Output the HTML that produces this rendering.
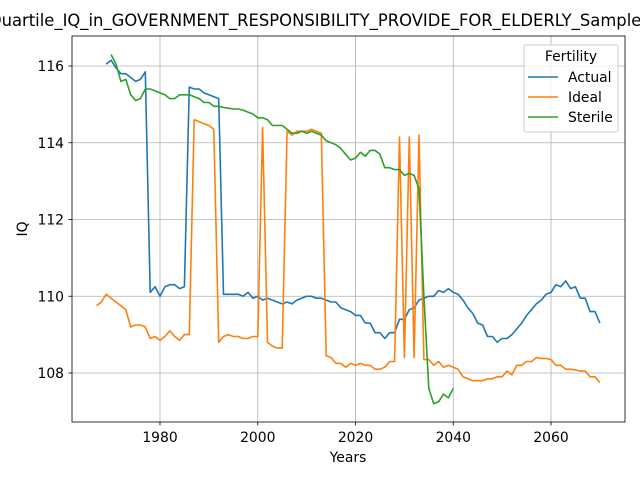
<!DOCTYPE html>
<html><head><meta charset="utf-8"><style>
body{margin:0;background:#fff;}
svg{font-family:"DejaVu Sans","Liberation Sans",sans-serif;}
</style></head><body>
<svg id="chart" width="640" height="480" viewBox="0 0 640 480">
<text x="315" y="26" text-anchor="middle" font-size="16.4">Quartile_IQ_in_GOVERNMENT_RESPONSIBILITY_PROVIDE_FOR_ELDERLY_Sample</text>
<g id="grid"></g>
<g id="series"></g>
<rect x="72" y="36" width="553" height="386" fill="none" stroke="#000" stroke-width="0.8"/>
<g id="ticks"></g>
<text x="348" y="462" text-anchor="middle" font-size="13.9">Years</text>
<text x="27" y="229" text-anchor="middle" font-size="13.9" transform="rotate(-90 27 229)">IQ</text>
<g>
<rect x="524" y="45" width="94" height="87" rx="2" fill="#fff" fill-opacity="0.8" stroke="#ccc"/>
<text x="571" y="61" text-anchor="middle" font-size="13.9">Fertility</text>
<g id="legend"></g>
</g>
</svg>
<script>
const xTicks=[1980,2000,2020,2040,2060];
const yTicks=[108,110,112,114,116];
const startActual=1969;
const actual=[116.05,116.15,115.95,115.8,115.8,115.7,115.6,115.65,115.85,110.1,110.25,110.0,110.25,110.3,110.3,110.2,110.25,115.45,115.4,115.4,115.3,115.25,115.2,115.15,110.05,110.05,110.05,110.05,110.0,110.1,109.95,110.0,109.9,109.95,109.9,109.85,109.8,109.85,109.8,109.9,109.95,110.0,110.0,109.95,109.95,109.9,109.85,109.85,109.7,109.65,109.6,109.5,109.5,109.3,109.3,109.05,109.05,108.9,109.05,109.05,109.4,109.4,109.65,109.7,109.9,109.95,110.0,110.0,110.15,110.1,110.2,110.1,110.05,109.9,109.7,109.55,109.3,109.25,108.95,108.95,108.8,108.9,108.9,109.0,109.15,109.3,109.5,109.65,109.8,109.9,110.05,110.1,110.3,110.25,110.4,110.2,110.25,109.95,109.95,109.6,109.6,109.3];
const startIdeal=1967;
const ideal=[109.75,109.85,110.05,109.95,109.85,109.75,109.65,109.2,109.25,109.25,109.2,108.9,108.95,108.85,108.95,109.1,108.95,108.85,109.0,109.0,114.6,114.55,114.5,114.45,114.35,108.8,108.95,109.0,108.95,108.95,108.9,108.9,108.95,108.95,114.4,108.8,108.7,108.65,108.65,114.3,114.2,114.3,114.3,114.3,114.35,114.3,114.25,108.45,108.4,108.25,108.25,108.15,108.25,108.2,108.25,108.2,108.2,108.1,108.1,108.15,108.3,108.3,114.15,108.4,114.15,108.4,114.2,108.35,108.35,108.2,108.3,108.15,108.2,108.15,108.1,107.9,107.85,107.8,107.8,107.8,107.85,107.85,107.9,107.9,108.05,107.95,108.2,108.2,108.3,108.3,108.4,108.38,108.38,108.35,108.2,108.2,108.1,108.1,108.08,108.05,108.05,107.9,107.9,107.75];
const startSterile=1970;
const sterile=[116.3,116.05,115.6,115.65,115.25,115.1,115.15,115.4,115.4,115.35,115.3,115.25,115.15,115.15,115.25,115.25,115.25,115.2,115.15,115.05,115.05,114.95,114.95,114.92,114.9,114.88,114.88,114.85,114.8,114.75,114.65,114.65,114.6,114.45,114.45,114.45,114.35,114.25,114.25,114.3,114.25,114.3,114.25,114.2,114.05,114.0,113.95,113.85,113.7,113.55,113.6,113.75,113.65,113.8,113.8,113.7,113.35,113.35,113.3,113.3,113.15,113.2,113.15,112.8,110.0,107.6,107.2,107.25,107.45,107.35,107.6];
const seriesNames=["Actual","Ideal","Sterile"];
const colors=["#1f77b4","#ff7f0e","#2ca02c"];
const NS="http://www.w3.org/2000/svg";
function xs(v){return 160+(v-1980)*(551-160)/80;}
function ys(v){return 66+(116-v)*(373-66)/8;}
function mk(tag,attrs,parent){const e=document.createElementNS(NS,tag);for(const k in attrs)e.setAttribute(k,attrs[k]);parent.appendChild(e);return e;}
const grid=document.getElementById('grid'),ticks=document.getElementById('ticks');
xTicks.forEach(t=>{
 const g=mk('line',{x1:xs(t),x2:xs(t),y1:36,y2:422,stroke:'#b0b0b0','stroke-width':0.8},grid);
 
 
 const tk=mk('line',{x1:xs(t),x2:xs(t),y1:422,y2:425.5,stroke:'#000','stroke-width':0.8},ticks);
 
 
 const l=mk('text',{x:xs(t),y:442,'text-anchor':'middle','font-size':13.9},ticks);
 l.textContent=t;
 
 
});
yTicks.forEach(t=>{
 const g=mk('line',{x1:72,x2:625,y1:ys(t),y2:ys(t),stroke:'#b0b0b0','stroke-width':0.8},grid);
 
 
 const tk=mk('line',{x1:68.5,x2:72,y1:ys(t),y2:ys(t),stroke:'#000','stroke-width':0.8},ticks);
 
 
 const l=mk('text',{x:64,y:ys(t)+5,'text-anchor':'end','font-size':13.9},ticks);
 l.textContent=t;
 
 
});
const sg=document.getElementById('series');
[[actual,startActual],[ideal,startIdeal],[sterile,startSterile]].forEach((s,i)=>{
 const pts=s[0].map((v,j)=>xs(s[1]+j).toFixed(1)+','+ys(v).toFixed(1)).join(' ');
 const p=mk('polyline',{points:pts,fill:'none',stroke:colors[i],'stroke-width':1.6,'stroke-linejoin':'round'},sg);
 
 
});
const lg=document.getElementById('legend');
seriesNames.forEach((n,i)=>{
 const y=77+i*20;
 const l=mk('line',{x1:528,x2:558,y1:y,y2:y,stroke:colors[i],'stroke-width':1.6},lg);
 
 
 const t=mk('text',{x:568,y:y+5,'font-size':13.9},lg);
 t.textContent=n;
 
 
});
</script>
</body></html>
